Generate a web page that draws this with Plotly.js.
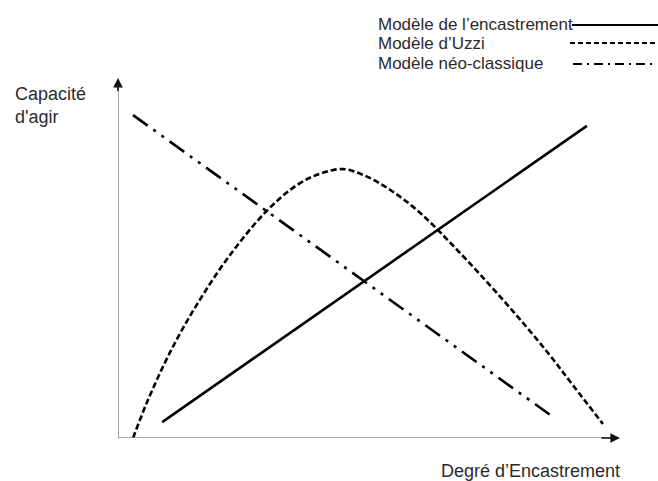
<!DOCTYPE html>
<html>
<head>
<meta charset="utf-8">
<script src="https://cdn.plot.ly/plotly-3.0.1.min.js"></script>
<style>html,body{margin:0;padding:0;background:#fff;}#chart{width:658px;height:481px;}</style>
</head>
<body>
<div id="chart"></div>
<script>
// Modèle de l'encastrement (straight line)
var encastX = [8.8, 93.4];
var encastY = [4.4, 86.7];
// Modèle d'Uzzi (inverted-U curve)
var uzziX = [3.0, 5.8, 10.4, 15.9, 22.3, 29.7, 35.7, 40.2, 44.8, 48.8, 52.2, 55.6, 58.8, 62.2, 66.7, 72.1, 78.7, 85.5, 90.6, 96.6];
var uzziY = [0, 10.0, 23.9, 37.5, 50.8, 63.2, 70.3, 73.4, 74.7, 73.1, 70.7, 67.6, 64.2, 59.9, 53.5, 45.5, 35.2, 23.9, 14.7, 3.9];
// Modèle néo-classique (decreasing line)
var neoX = [3.0, 86.7];
var neoY = [89.7, 5.8];

var legendLabels = ["Modèle de l’encastrement", "Modèle d’Uzzi", "Modèle néo-classique"];
var xLabel = "Degré d’Encastrement";
var yLabel = "Capacité<br>d'agir";

var dashUzzi = "6px,3px";
var dashNeo = "18px,7px,3px,7px,3px,7px";

var L = 118, T = 78, W = 502, H = 360;
function px(x) { return (x - L) / W; }
function py(y) { return (T + H - y) / H; }

var traces = [
  {x: encastX, y: encastY, mode: 'lines', line: {color: '#000', width: 2.6}, name: legendLabels[0]},
  {x: uzziX, y: uzziY, mode: 'lines', line: {color: '#000', width: 2.6, dash: dashUzzi, shape: 'spline', smoothing: 1}, name: legendLabels[1]},
  {x: neoX, y: neoY, mode: 'lines', line: {color: '#000', width: 2.6, dash: dashNeo}, name: legendLabels[2]}
];

var font = {family: 'Liberation Sans, Arial, sans-serif', color: '#2b2b2b'};

var annotations = [
  {xref: 'paper', yref: 'paper', x: px(13), y: py(106), xanchor: 'left', yanchor: 'middle', align: 'left', showarrow: false,
   text: yLabel, font: Object.assign({size: 18}, font)},
  {xref: 'paper', yref: 'paper', x: px(439), y: py(471), xanchor: 'left', yanchor: 'middle', showarrow: false,
   text: xLabel, font: Object.assign({size: 18}, font)},
  // arrowheads
  {xref: 'x', yref: 'y', axref: 'x', ayref: 'y', x: 0, y: 100, ax: 0, ay: 96, showarrow: true, text: '',
   arrowhead: 2, arrowsize: 1.2, arrowwidth: 1.6, arrowcolor: '#111'},
  {xref: 'x', yref: 'y', axref: 'x', ayref: 'y', x: 100, y: 0, ax: 96, ay: 0, showarrow: true, text: '',
   arrowhead: 2, arrowsize: 1.2, arrowwidth: 1.6, arrowcolor: '#111'}
];
var legY = [24, 44, 64];
for (var i = 0; i < legendLabels.length; i++) {
  annotations.push({xref: 'paper', yref: 'paper', x: px(376), y: py(legY[i]), xanchor: 'left', yanchor: 'middle', showarrow: false,
    text: legendLabels[i], font: Object.assign({size: 17}, font)});
}

var shapes = [
  {type: 'line', xref: 'x', yref: 'y', x0: 0, y0: 0, x1: 0, y1: 98, line: {color: '#8a8a8a', width: 1.6}},
  {type: 'line', xref: 'x', yref: 'y', x0: 0, y0: 0, x1: 98, y1: 0, line: {color: '#8a8a8a', width: 1.6}},
  {type: 'line', xref: 'paper', yref: 'paper', x0: px(572), x1: px(658), y0: py(25), y1: py(25), line: {color: '#000', width: 2}},
  {type: 'line', xref: 'paper', yref: 'paper', x0: px(570), x1: px(656), y0: py(43), y1: py(43), line: {color: '#000', width: 2, dash: '5px,3px'}},
  {type: 'line', xref: 'paper', yref: 'paper', x0: px(573), x1: px(656), y0: py(64), y1: py(64), line: {color: '#000', width: 2, dash: '9px,5px,2px,5px'}}
];

var layout = {
  width: 658, height: 481,
  margin: {l: L, r: 658 - L - W, t: T, b: 481 - T - H, pad: 0},
  paper_bgcolor: '#fff', plot_bgcolor: '#fff',
  showlegend: false,
  xaxis: {range: [0, 100], showgrid: false, zeroline: false, showticklabels: false, ticks: '', showline: false, fixedrange: true},
  yaxis: {range: [0, 100], showgrid: false, zeroline: false, showticklabels: false, ticks: '', showline: false, fixedrange: true},
  annotations: annotations,
  shapes: shapes
};

Plotly.newPlot('chart', traces, layout, {displayModeBar: false, staticPlot: true});
</script>
</body>
</html>
